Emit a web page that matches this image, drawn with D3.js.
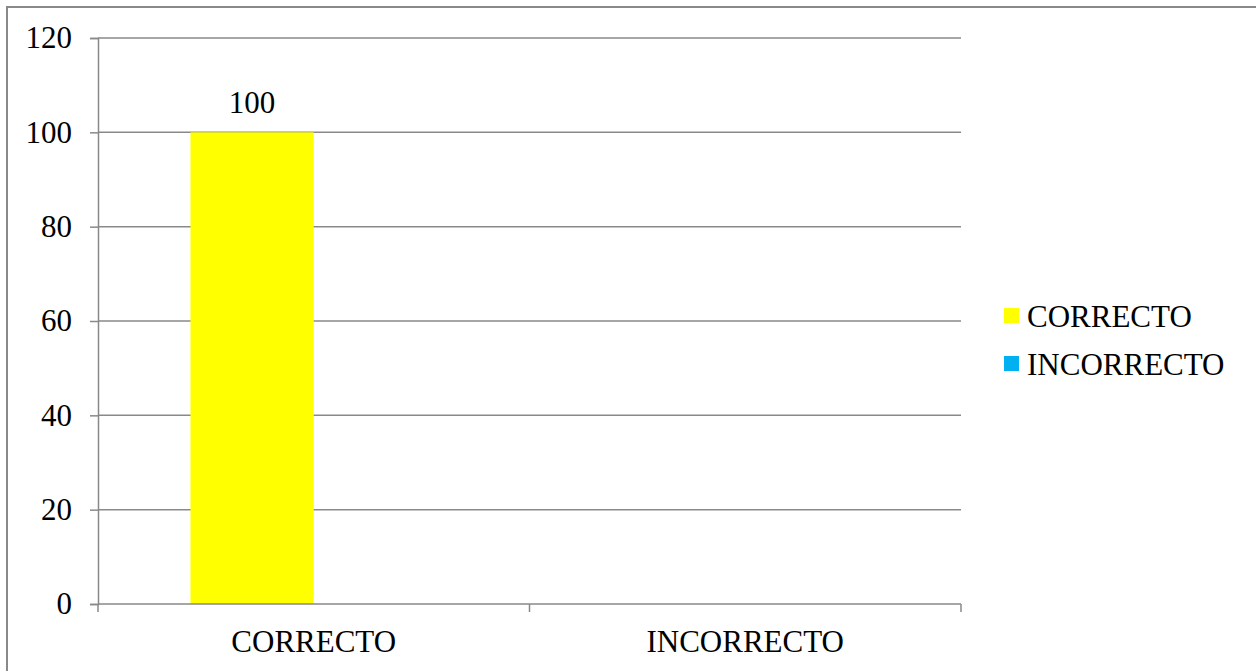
<!DOCTYPE html>
<html>
<head>
<meta charset="utf-8">
<script src="https://cdn.jsdelivr.net/npm/d3@7"></script>
<style>
  html, body { margin: 0; padding: 0; background: #ffffff; }
  svg { display: block; }
  svg text { font-family: "Liberation Serif", "Times New Roman", "DejaVu Serif", serif !important; fill: #000; }
</style>
</head>
<body>
<svg id="chart" width="1256" height="671"></svg>
<script>
// ---- data ----
const categories = ["CORRECTO", "INCORRECTO"];
const seriesNames = ["CORRECTO", "INCORRECTO"];
const correctoValues = [100, 0];
const incorrectoValues = [0, 0];
const yTicks = [0, 20, 40, 60, 80, 100, 120];
const seriesColors = ["#FFFF00", "#00B0F0"];

const seriesValues = [correctoValues, incorrectoValues];

const svg = d3.select("#chart");
const W = 1256, H = 671;
const plot = { left: 98, right: 961, top: 38, bottom: 604 };
const gridColor = "#898989";
const fontSize = 31;
const serif = "'Liberation Serif', 'Times New Roman', serif";

// outer chart border (top and left visible in the picture)
svg.append("rect")
  .attr("x", 7).attr("y", 7)
  .attr("width", W + 20).attr("height", H + 20)
  .attr("fill", "none").attr("stroke", gridColor).attr("stroke-width", 2);

const y = d3.scaleLinear().domain([0, 120]).range([plot.bottom, plot.top]);
const x0 = d3.scaleBand().domain(categories).range([plot.left, plot.right]).paddingInner(0).paddingOuter(0);
const x1 = d3.scaleBand().domain(seriesNames).range([0, x0.bandwidth()]).paddingInner(0).paddingOuter(0.75);

// gridlines
svg.append("g").selectAll("line").data(yTicks.filter(d => d > 0)).join("line")
  .attr("x1", plot.left).attr("x2", plot.right)
  .attr("y1", d => y(d)).attr("y2", d => y(d))
  .attr("stroke", gridColor).attr("stroke-width", 1.5);

// y axis
const yAxis = d3.axisLeft(y).tickValues(yTicks).tickSize(8).tickPadding(18).tickFormat(d3.format("d"));
const gy = svg.append("g").attr("transform", `translate(${plot.left},0)`).call(yAxis)
  .attr("font-family", serif).attr("font-size", fontSize);
gy.select(".domain").attr("stroke", gridColor).attr("stroke-width", 1.5);
gy.selectAll(".tick line").attr("stroke", gridColor).attr("stroke-width", 1.5);
gy.selectAll(".tick text").attr("font-size", fontSize).attr("font-family", serif).attr("fill", "#000");

// bars
const barData = [];
categories.forEach((c, ci) => {
  seriesNames.forEach((s, si) => {
    barData.push({ cat: c, series: s, si, value: seriesValues[si][ci] });
  });
});

svg.append("g").selectAll("rect").data(barData).join("rect")
  .attr("x", d => x0(d.cat) + x1(d.series))
  .attr("y", d => y(d.value))
  .attr("width", x1.bandwidth())
  .attr("height", d => y(0) - y(d.value))
  .attr("fill", d => seriesColors[d.si]);

// data labels (non-zero only)
svg.append("g").selectAll("text").data(barData.filter(d => d.value > 0)).join("text")
  .attr("x", d => x0(d.cat) + x1(d.series) + x1.bandwidth() / 2)
  .attr("y", d => y(d.value) - 19)
  .attr("text-anchor", "middle")
  .attr("font-family", serif)
  .attr("font-size", fontSize)
  .text(d => d.value);

// x axis
const xAxisScale = d3.scalePoint().domain([0, 1, 2]).range([plot.left, plot.right]);
const gx = svg.append("g").attr("transform", `translate(0,${plot.bottom})`);
gx.append("line").attr("x1", plot.left).attr("x2", plot.right).attr("y1", 0).attr("y2", 0)
  .attr("stroke", gridColor).attr("stroke-width", 1.5);
gx.selectAll("line.tick").data(xAxisScale.domain()).join("line").attr("class", "tick")
  .attr("x1", d => xAxisScale(d)).attr("x2", d => xAxisScale(d))
  .attr("y1", 0).attr("y2", 8)
  .attr("stroke", gridColor).attr("stroke-width", 1.5);
gx.selectAll("text").data(categories).join("text")
  .attr("x", d => x0(d) + x0.bandwidth() / 2)
  .attr("y", 48)
  .attr("text-anchor", "middle")
  .attr("font-family", serif)
  .attr("font-size", fontSize)
  .text(d => d);

// legend
const legend = svg.append("g").attr("transform", "translate(1004,0)");
const legendY = [316, 364];
const lg = legend.selectAll("g").data(seriesNames).join("g")
  .attr("transform", (d, i) => `translate(0,${legendY[i]})`);
lg.append("rect").attr("x", 0).attr("y", -8).attr("width", 15).attr("height", 15)
  .attr("fill", (d, i) => seriesColors[i]);
lg.append("text").attr("x", 23).attr("y", 11).attr("font-family", serif).attr("font-size", fontSize).text(d => d);
</script>
</body>
</html>
